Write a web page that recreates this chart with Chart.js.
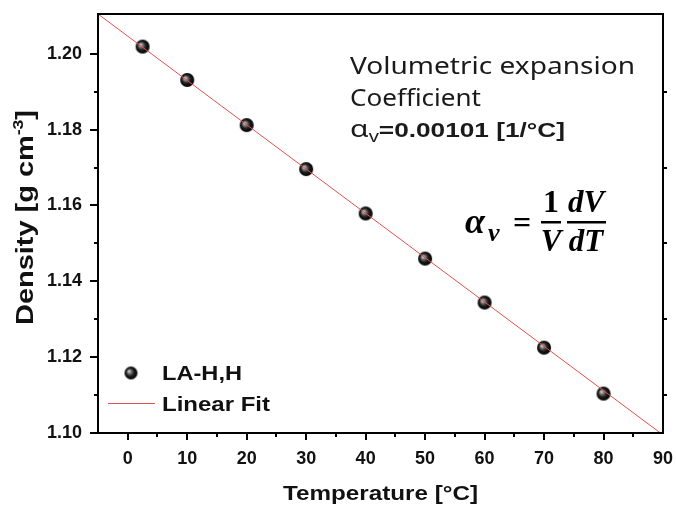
<!DOCTYPE html>
<html>
<head>
<meta charset="utf-8">
<script src="https://cdn.jsdelivr.net/npm/chart.js@4.4.1/dist/chart.umd.min.js"></script>
<style>
  html, body { margin: 0; padding: 0; background: #fff; }
  #wrap { width: 676px; height: 506px; position: relative; }
</style>
</head>
<body>
<div id="wrap"><canvas id="chartDensidad" width="676" height="506"></canvas></div>
<script>
// datos
const temperaturas = [2.5, 10, 20, 30, 40, 50, 60, 70, 80];
const densidades = [1.2019, 1.1931, 1.1812, 1.1696, 1.1579, 1.1460, 1.1344, 1.1225, 1.1104];
const ajusteX = [-5, 90];
const ajusteY = [1.2105, 1.0995];
const ticksX = [0, 10, 20, 30, 40, 50, 60, 70, 80, 90];
const ticksY = [1.10, 1.12, 1.14, 1.16, 1.18, 1.20];

const SANS = "'Liberation Sans', Arial, sans-serif";
const NOTO = "'Noto Sans', 'Open Sans', sans-serif";

function crearEsfera(r) {
    const c = document.createElement("canvas");
    c.width = r * 2 + 2;
    c.height = r * 2 + 2;
    const g = c.getContext("2d");
    const cx = c.width / 2, cy = c.height / 2;
    const grad = g.createRadialGradient(cx - r * 0.35, cy - r * 0.3, 0, cx, cy, r);
    grad.addColorStop(0, "#e8e8e8");
    grad.addColorStop(0.25, "#8a8a8a");
    grad.addColorStop(0.6, "#1e1e1e");
    grad.addColorStop(1, "#000");
    g.fillStyle = grad;
    g.beginPath();
    g.arc(cx, cy, r, 0, Math.PI * 2);
    g.fill();
    return c;
}

const esfera = crearEsfera(7);
const esferaLeyenda = crearEsfera(6.5);

// dibuja trozos de texto [texto, fuente, dy] estirados a un ancho dado
function textoAncho(ctx, trozos, x, y, ancho) {
    let total = 0;
    trozos.forEach(t => { ctx.font = t[1]; total += ctx.measureText(t[0]).width; });
    const k = ancho / total;
    ctx.save();
    ctx.translate(x, y);
    ctx.scale(k, 1);
    let px = 0;
    trozos.forEach(t => {
        ctx.font = t[1];
        ctx.fillText(t[0], px, t[2] || 0);
        px += ctx.measureText(t[0]).width;
    });
    ctx.restore();
}

const marcoYTextos = {
    id: "marcoYTextos",
    afterDraw(chart) {
        const ctx = chart.ctx;
        const a = chart.chartArea;
        const sx = chart.scales.x, sy = chart.scales.y;
        ctx.save();
        ctx.strokeStyle = "#000";
        ctx.lineWidth = 2;
        ctx.strokeRect(a.left, a.top, a.right - a.left, a.bottom - a.top);

        // ticks
        ctx.beginPath();
        for (let i = 0; i <= 10; i++) {
            const v = 1.10 + i * 0.01;
            const y = Math.round(sy.getPixelForValue(v));
            const largo = i % 2 === 0 ? 8 : 4;
            ctx.moveTo(a.left, y);
            ctx.lineTo(a.left - largo, y);
            if (i % 2 === 1) {
                ctx.moveTo(a.right, y);
                ctx.lineTo(a.right + 4, y);
            }
        }
        for (let v = 0; v <= 85; v += 5) {
            const x = Math.round(sx.getPixelForValue(v));
            const largo = v % 10 === 0 ? 7 : 4;
            ctx.moveTo(x, a.bottom);
            ctx.lineTo(x, a.bottom + largo);
        }
        ctx.stroke();

        ctx.fillStyle = "#111";
        ctx.textAlign = "left";
        ctx.textBaseline = "alphabetic";
        // titulo eje x
        textoAncho(ctx, [["Temperature [°C]", "bold 21px " + SANS]], 283, 500, 195);

        // titulo eje y
        ctx.save();
        ctx.translate(33, 325);
        ctx.rotate(-Math.PI / 2);
        textoAncho(ctx, [
            ["Density [g cm", "bold 23px " + SANS],
            ["-3", "bold 14px " + SANS, -10],
            ["]", "bold 23px " + SANS]
        ], 0, 0, 215);
        ctx.restore();

        // texto del coeficiente
        ctx.fillStyle = "#1a1a1a";
        textoAncho(ctx, [["Volumetric expansion", "23px " + NOTO]], 350, 74, 285);
        textoAncho(ctx, [["Coefficient", "23px " + NOTO]], 350, 106, 131);
        textoAncho(ctx, [
            ["α", "24px " + NOTO],
            ["v", "16px " + NOTO, 5],
            ["=0.00101 [1/°C]", "bold 21px " + SANS]
        ], 350, 137, 215);

        // formula
        const SERIF = "'Liberation Serif', 'DejaVu Serif', serif";
        ctx.fillStyle = "#000";
        ctx.font = "bold italic 36px " + SERIF;
        ctx.fillText("α", 465, 233);
        ctx.font = "bold italic 26px " + SERIF;
        ctx.fillText("v", 488, 241);
        ctx.font = "bold 32px " + SERIF;
        ctx.textAlign = "center";
        ctx.fillText("=", 522, 233);
        ctx.fillText("1", 551, 212);
        ctx.font = "bold italic 31px " + SERIF;
        ctx.fillText("V", 551, 251);
        ctx.fillText("dV", 586, 212);
        ctx.fillText("dT", 586, 251);
        ctx.fillRect(541, 221, 20, 2.5);
        ctx.fillRect(567, 221, 39, 2.5);

        // leyenda
        ctx.drawImage(esferaLeyenda, 131 - esferaLeyenda.width / 2, 373 - esferaLeyenda.height / 2);
        ctx.strokeStyle = "#e05050";
        ctx.lineWidth = 1;
        ctx.beginPath();
        ctx.moveTo(108, 403.5);
        ctx.lineTo(155, 403.5);
        ctx.stroke();
        ctx.fillStyle = "#111";
        ctx.textAlign = "left";
        textoAncho(ctx, [["LA-H,H", "bold 21px " + SANS]], 162, 380, 80);
        textoAncho(ctx, [["Linear Fit", "bold 21px " + SANS]], 162, 411, 108);
        ctx.restore();
    }
};

function sinRelleno(s) {
    s.paddingLeft = 0;
    s.paddingRight = 0;
    s.paddingTop = 0;
    s.paddingBottom = 0;
}

const ctx = document.getElementById("chartDensidad");
new Chart(ctx, {
    type: "scatter",
    data: {
        datasets: [
            {
                label: "Linear Fit",
                data: ajusteX.map((x, i) => ({ x: x, y: ajusteY[i] })),
                showLine: true,
                borderColor: "#e05050",
                borderWidth: 1,
                pointRadius: 0,
                order: 0
            },
            {
                label: "LA-H,H",
                data: temperaturas.map((t, i) => ({ x: t, y: densidades[i] })),
                pointStyle: esfera,
                pointRadius: 7,
                order: 1
            }
        ]
    },
    options: {
        responsive: false,
        animation: false,
        devicePixelRatio: 1,
        layout: { padding: { left: 0, top: 14, right: 13, bottom: 0 } },
        plugins: {
            legend: { display: false },
            tooltip: { enabled: false }
        },
        scales: {
            x: {
                type: "linear",
                min: -5,
                max: 90,
                afterBuildTicks: s => { s.ticks = ticksX.map(v => ({ value: v })); },
                afterFit: s => { s.height = 73; sinRelleno(s); },
                grid: { display: false, drawTicks: false },
                border: { display: false },
                ticks: {
                    padding: 15,
                    color: "#111",
                    maxRotation: 0,
                    font: { family: SANS, size: 18, weight: "bold" }
                }
            },
            y: {
                type: "linear",
                min: 1.10,
                max: 1.2105,
                afterBuildTicks: s => { s.ticks = ticksY.map(v => ({ value: v })); },
                afterFit: s => { s.width = 98; sinRelleno(s); },
                grid: { display: false, drawTicks: false },
                border: { display: false },
                ticks: {
                    padding: 16,
                    color: "#111",
                    font: { family: SANS, size: 18, weight: "bold" },
                    callback: v => v.toFixed(2)
                }
            }
        }
    },
    plugins: [marcoYTextos]
});
</script>
</body>
</html>
